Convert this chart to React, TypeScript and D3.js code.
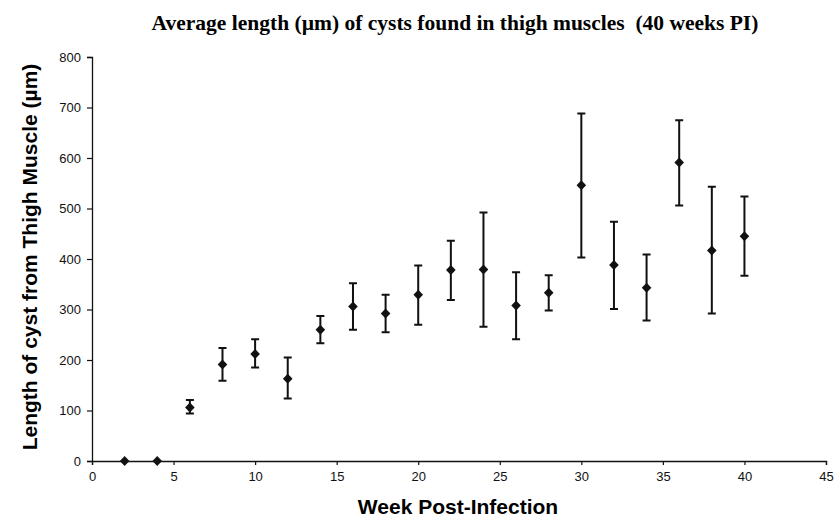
import * as React from "react";
import * as d3 from "d3";

// weeks post-infection and mean cyst length with error bar ends (µm)
const weeks: number[] = [2, 4, 6, 8, 10, 12, 14, 16, 18, 20, 22, 24, 26, 28, 30, 32, 34, 36, 38, 40];
const means: number[] = [0, 0, 106, 191, 212, 163, 260, 306, 292, 329, 378, 379, 308, 333, 546, 388, 343, 591, 417, 445];
const highs: number[] = [0, 0, 121, 224, 241, 205, 287, 352, 329, 387, 436, 492, 374, 368, 688, 474, 409, 675, 543, 524];
const lows: number[] = [0, 0, 94, 159, 185, 124, 233, 260, 255, 270, 319, 266, 241, 298, 403, 301, 278, 506, 292, 367];
const xTicks: number[] = [0, 5, 10, 15, 20, 25, 30, 35, 40, 45];
const yTicks: number[] = [0, 100, 200, 300, 400, 500, 600, 700, 800];

const width: number = 837;
const height: number = 524;
const margin = { top: 57, right: 11, bottom: 63, left: 92 };

interface Point {
    week: number;
    mean: number;
    high: number;
    low: number;
}

export default function App(): JSX.Element {
    const ref = React.useRef<SVGSVGElement>(null);

    React.useEffect(() => {
        const svg = d3.select(ref.current);
        svg.selectAll("*").remove();

        const innerW: number = width - margin.left - margin.right;
        const innerH: number = height - margin.top - margin.bottom;

        const x = d3.scaleLinear().domain([0, 45]).range([0, innerW]);
        const y = d3.scaleLinear().domain([0, 800]).range([innerH, 0]);

        const points: Point[] = weeks.map((w, i) => ({ week: w, mean: means[i], high: highs[i], low: lows[i] }));

        svg.append("text")
            .attr("x", 455)
            .attr("y", 30)
            .attr("text-anchor", "middle")
            .attr("font-family", "Liberation Serif, Times New Roman, serif")
            .attr("font-weight", "bold")
            .attr("font-size", 21.5)
            .text("Average length (\u00b5m) of cysts found in thigh muscles \u00a0(40 weeks PI)");

        const g = svg.append("g").attr("transform", `translate(${margin.left},${margin.top})`);

        const xAxis = d3.axisBottom(x).tickValues(xTicks).tickSize(4).tickPadding(7);
        const yAxis = d3.axisLeft(y).tickValues(yTicks).tickSize(5).tickPadding(6);

        const xG = g.append("g").attr("transform", `translate(0,${innerH})`).call(xAxis);
        const yG = g.append("g").call(yAxis);

        [xG, yG].forEach((a) => {
            a.select(".domain").attr("stroke", "#111").attr("stroke-width", 1.3);
            a.selectAll(".tick line").attr("stroke", "#111").attr("stroke-width", 1.2);
            a.selectAll(".tick text")
                .attr("fill", "#111")
                .attr("font-family", "Liberation Sans, Arial, sans-serif")
                .attr("font-size", 13);
        });

        const bars = g.append("g");
        bars.selectAll(".err")
            .data(points.filter((p) => p.high > p.low))
            .enter().append("path")
            .attr("d", (p: Point) => {
                const cx = x(p.week);
                const t = y(p.high);
                const b = y(p.low);
                return `M${cx - 4},${t}H${cx + 4}M${cx},${t}V${b}M${cx - 4},${b}H${cx + 4}`;
            })
            .attr("fill", "none")
            .attr("stroke", "#111")
            .attr("stroke-width", 2);

        bars.selectAll(".pt")
            .data(points)
            .enter().append("path")
            .attr("d", "M0,-5L4.8,0L0,5L-4.8,0Z")
            .attr("transform", (p: Point) => `translate(${x(p.week)},${y(p.mean)})`)
            .attr("fill", "#111");

        svg.append("text")
            .attr("x", 458)
            .attr("y", 514)
            .attr("text-anchor", "middle")
            .attr("font-family", "Liberation Sans, Arial, sans-serif")
            .attr("font-weight", "bold")
            .attr("font-size", 21)
            .text("Week Post-Infection");

        svg.append("g")
            .attr("transform", `translate(37,${margin.top + 200})`)
            .append("text")
            .attr("transform", "rotate(-90)")
            .attr("text-anchor", "middle")
            .attr("font-family", "Liberation Sans, Arial, sans-serif")
            .attr("font-weight", "bold")
            .attr("font-size", 21)
            .text("Length of cyst from Thigh Muscle (\u00b5m)");
    }, []);

    return (
        <svg ref={ref} width={width} height={height}
            style={{ position: "absolute", left: 0, top: 0, background: "#fff" }} />
    );
}
